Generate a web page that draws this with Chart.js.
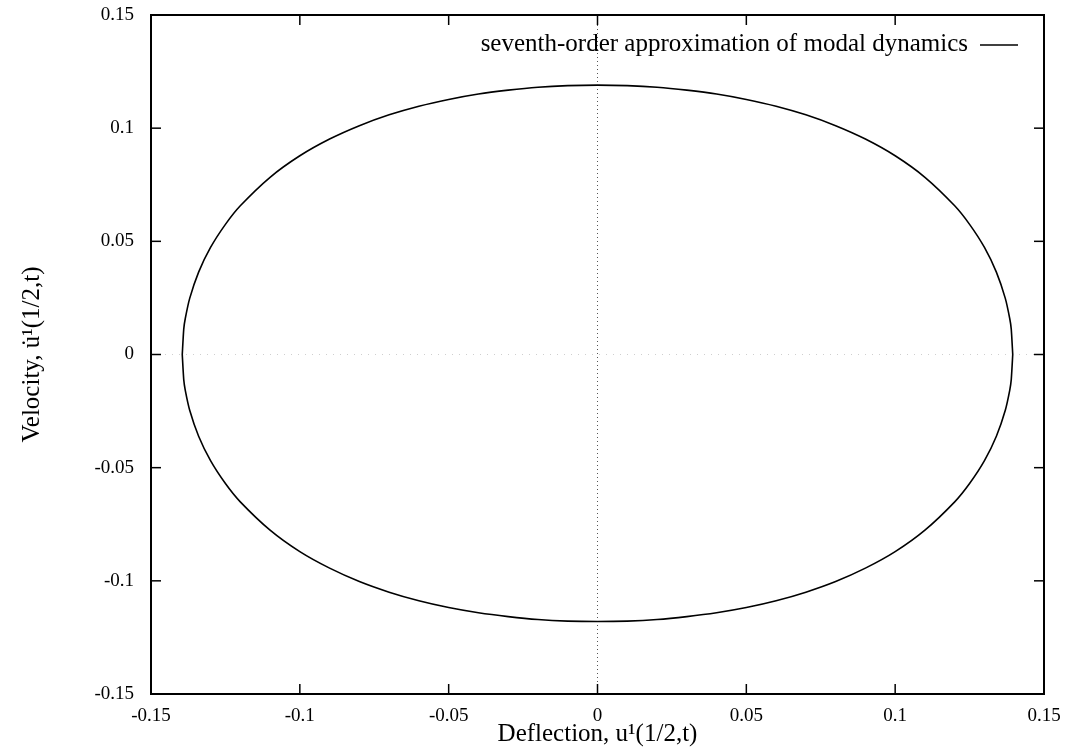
<!DOCTYPE html>
<html>
<head>
<meta charset="utf-8">
<script src="https://cdn.jsdelivr.net/npm/chart.js@4/dist/chart.umd.min.js"></script>
<style>
  html, body { margin: 0; padding: 0; background: #fff; }
  #wrap { width: 1071px; height: 754px; }
</style>
</head>
<body>
<div id="wrap"><canvas id="c" width="1071" height="754"></canvas></div>
<script>
// ---- data ----
const seriesLabel = 'seventh-order approximation of modal dynamics';
const curveX = [-0.1395, -0.139, -0.1385, -0.137, -0.134, -0.13, -0.125, -0.12, -0.11, -0.1, -0.09, -0.08, -0.07, -0.06, -0.05, -0.04, -0.03, -0.02, -0.01, 0,
                 0.01, 0.02, 0.03, 0.04, 0.05, 0.06, 0.07, 0.08, 0.09, 0.1, 0.11, 0.12, 0.125, 0.13, 0.134, 0.137, 0.1385, 0.139, 0.1395];
const upperY = [0, 0.0112, 0.0158, 0.0248, 0.0364, 0.0473, 0.0575, 0.0657, 0.0783, 0.0878, 0.0952, 0.1011, 0.1059, 0.1097, 0.1127, 0.1151, 0.1168, 0.1181, 0.1188, 0.119,
                 0.1188, 0.1181, 0.1168, 0.1151, 0.1127, 0.1097, 0.1059, 0.1011, 0.0952, 0.0878, 0.0783, 0.0657, 0.0575, 0.0473, 0.0364, 0.0248, 0.0158, 0.0112, 0];
const lowerY = [0, -0.0111, -0.0157, -0.0246, -0.0361, -0.0469, -0.057, -0.0651, -0.0776, -0.0871, -0.0944, -0.1003, -0.105, -0.1088, -0.1118, -0.1141, -0.1158, -0.1171, -0.1178, -0.118,
                 -0.1178, -0.1171, -0.1158, -0.1141, -0.1118, -0.1088, -0.105, -0.1003, -0.0944, -0.0871, -0.0776, -0.0651, -0.057, -0.0469, -0.0361, -0.0246, -0.0157, -0.0111, 0];
const xTickLabels = ['-0.15', '-0.1', '-0.05', '0', '0.05', '0.1', '0.15'];
const yTickLabels = ['-0.15', '-0.1', '-0.05', '0', '0.05', '0.1', '0.15'];
const axisMin = -0.15, axisMax = 0.15, axisStep = 0.05;
const zeroLineSpan = [-0.15, 0.15];
const xTitle = 'Deflection, u\u00B9(1/2,t)';
const yTitle = 'Velocity, u\u0307\u00B9(1/2,t)';

// ---- build datasets from the arrays ----
const curvePts = [];
curveX.forEach((x, i) => curvePts.push({x: x, y: upperY[i]}));
for (let i = curveX.length - 1; i >= 0; i--) curvePts.push({x: curveX[i], y: lowerY[i]});

const vZero = zeroLineSpan.map(v => ({x: 0, y: v}));
const hZero = zeroLineSpan.map(v => ({x: v, y: 0}));

const FONT = "'Liberation Serif', 'DejaVu Serif', serif";

const framePlugin = {
  id: 'frame',
  afterDatasetsDraw(chart) {
    const {ctx, chartArea: a, scales} = chart;
    ctx.save();
    ctx.strokeStyle = '#000';
    ctx.lineWidth = 1.5;
    const L = 10;
    const line = (x1, y1, x2, y2) => { ctx.beginPath(); ctx.moveTo(x1, y1); ctx.lineTo(x2, y2); ctx.stroke(); };
    scales.x.ticks.forEach(t => {
      const px = scales.x.getPixelForValue(t.value);
      line(px, a.bottom, px, a.bottom - L);
      line(px, a.top, px, a.top + L);
    });
    scales.y.ticks.forEach(t => {
      const py = scales.y.getPixelForValue(t.value);
      line(a.left, py, a.left + L, py);
      line(a.right, py, a.right - L, py);
    });
    ctx.lineWidth = 2;
    ctx.strokeRect(a.left, a.top, a.right - a.left, a.bottom - a.top);
    // legend (top right, inside plot)
    const ds = chart.data.datasets[0];
    ctx.font = "25px " + FONT;
    ctx.fillStyle = '#000';
    ctx.textAlign = 'right';
    ctx.textBaseline = 'middle';
    ctx.fillText(ds.label, 968, 44);
    ctx.lineWidth = 1.5;
    line(980, 45, 1018, 45);
    ctx.restore();
  }
};

new Chart(document.getElementById('c'), {
  type: 'scatter',
  data: {
    datasets: [
      { label: seriesLabel, data: curvePts, showLine: true, borderColor: '#000', borderWidth: 1.6,
        pointRadius: 0, tension: 0.2, fill: false, order: 0 },
      { label: 'x0', data: vZero, showLine: true, borderColor: '#555', borderWidth: 1,
        borderDash: [1, 3], pointRadius: 0, order: 1 },
      { label: 'y0', data: hZero, showLine: true, borderColor: '#cfcfcf', borderWidth: 1,
        borderDash: [1, 6], pointRadius: 0, order: 2 }
    ]
  },
  options: {
    responsive: false,
    animation: false,
    devicePixelRatio: 1,
    layout: { padding: { top: 15, right: 27, left: 0, bottom: 0 } },
    plugins: { legend: { display: false }, tooltip: { enabled: false } },
    scales: {
      x: {
        type: 'linear', min: axisMin, max: axisMax,
        afterFit(s) { s.height = 60; s.paddingLeft = 0; s.paddingRight = 0; },
        grid: { display: false, drawTicks: false },
        border: { display: false },
        ticks: { stepSize: axisStep, padding: 11, color: '#000', font: { family: FONT, size: 19 },
                 maxRotation: 0, callback: (v, i) => xTickLabels[i] },
        title: { display: true, text: xTitle, color: '#000', font: { family: FONT, size: 25 },
                 padding: { top: 0, bottom: 5 } }
      },
      y: {
        type: 'linear', min: axisMin, max: axisMax,
        afterFit(s) { s.width = 151; s.paddingTop = 0; s.paddingBottom = 0; },
        grid: { display: false, drawTicks: false },
        border: { display: false },
        ticks: { stepSize: axisStep, padding: 17, color: '#000', font: { family: FONT, size: 19 },
                 callback: (v, i) => yTickLabels[i] },
        title: { display: true, text: yTitle, color: '#000', font: { family: FONT, size: 25 },
                 padding: { top: 17, bottom: 0 } }
      }
    }
  },
  plugins: [framePlugin]
});
</script>
</body>
</html>
